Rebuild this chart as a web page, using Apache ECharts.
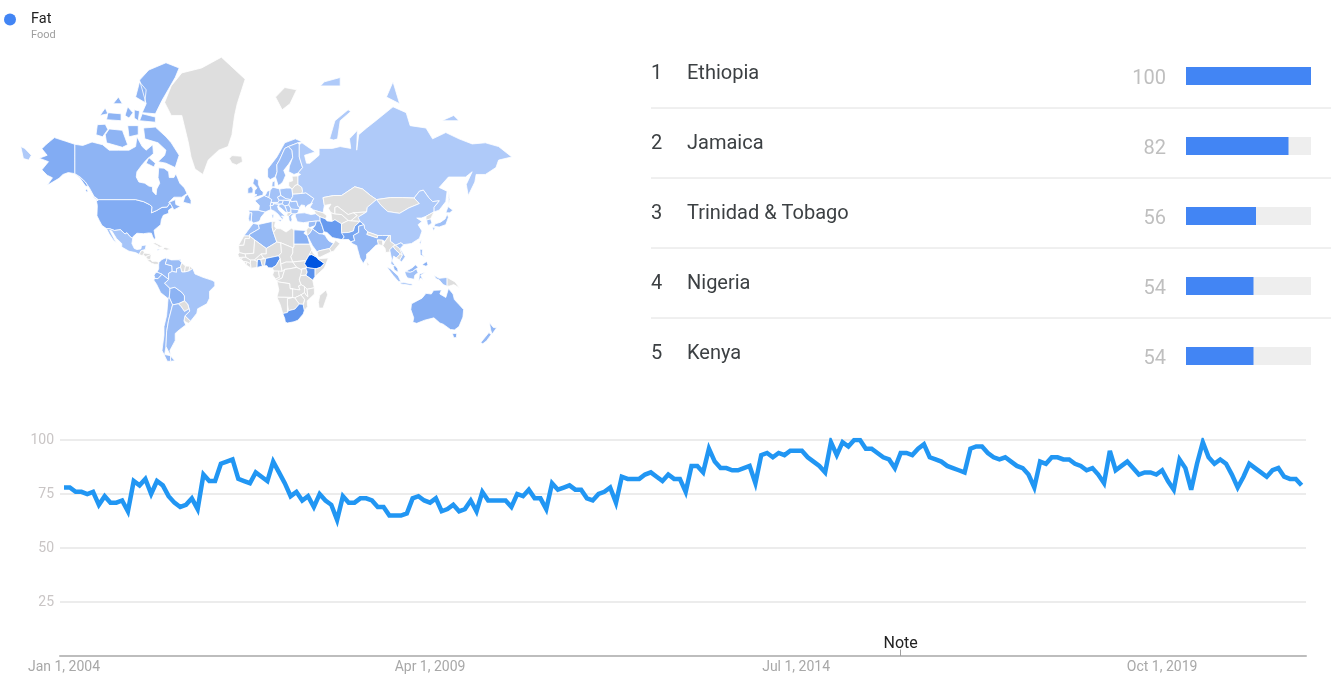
<!DOCTYPE html>
<html><head><meta charset="utf-8">
<style>html,body{margin:0;padding:0;background:#fff}#c{width:1331px;height:696px}</style>
<script src="https://cdn.jsdelivr.net/npm/echarts@6/dist/echarts.min.js"></script>
</head><body><div id="c"></div>
<script>
const rankNames = ['Ethiopia','Jamaica','Trinidad & Tobago','Nigeria','Kenya'];
const rankValues = [100,82,56,54,54];
const yTicksHidden = [0];
const tickMonths = [0,63,126,189]; /* months since Jan 2004 */
const tickLabels = ['Jan 1, 2004','Apr 1, 2009','Jul 1, 2014','Oct 1, 2019'];
const noteMonth = 144;
const interest = [
78,78,76,76,75,76,70,74,71,71,72,67,81,79,82,75,81,79,74,71,69,70,73,68,
84,81,81,89,90,91,82,81,80,85,83,81,90,85,80,74,76,72,74,69,75,72,70,63,
74,71,71,73,73,72,69,69,65,65,65,66,73,74,72,71,73,67,68,70,67,68,72,67,
76,72,72,72,72,69,75,74,77,73,73,68,80,77,78,79,77,77,73,72,75,76,78,71,
83,82,82,82,84,85,83,81,84,82,82,76,88,88,85,96,90,87,87,86,86,87,88,80,
93,94,92,94,93,95,95,95,92,90,88,85,99,93,99,97,100,100,96,96,94,92,91,87,
94,94,93,96,98,92,91,90,88,87,86,85,96,97,97,94,92,91,92,90,88,87,84,78,
90,89,92,92,91,91,89,88,86,87,84,80,95,86,88,90,87,84,85,85,84,86,81,77,
91,87,77,89,99,92,89,91,89,84,78,83,89,87,85,83,86,87,83,82,82,79];

const regionNames = ['Ethiopia','Jamaica','Trinidad','Nigeria','Kenya','South Africa','Iran','Ghana','Pakistan','Iraq','United States','Canada','Australia','India','Saudi Arabia','Algeria','Egypt','Morocco','Russia','China','Brazil','Argentina','Chile','Peru','Bolivia','Colombia','Ecuador','Venezuela','Mexico','Turkey','United Kingdom','Ireland','France','Germany','Spain','Portugal','Italy','Poland','Sweden','Norway','Finland','Denmark','Ukraine','Romania','Bulgaria','Greece','Hungary','Czechia','Austria','Switzerland','Benelux','Croatia','Serbia','South Korea','Japan','Thailand','Malaysia','Indonesia','Philippines','New Zealand','Vietnam','Taiwan','Syria'];
const regionValues = [100,82,56,54,54,50,47,45,38,35,33,27,31,25,22,24,30,18,10,11,15,20,22,24,28,22,24,20,15,12,25,25,18,16,18,15,14,15,20,22,18,18,14,15,14,15,18,16,16,16,18,15,14,15,18,15,25,18,30,25,15,15,20];

/* Simplified outlines as flat lon,lat lists */
const worldShapes = {
'United States':[[-124.7,48.4,-123,49,-95,49,-89,48,-84.5,46.5,-82.5,45.3,-83,42,-79,43.3,-75,45,-71,45.2,-69,47.4,-67,45,-70,43.5,-70,41.7,-74,40.6,-75.5,38,-76,35,-81,31.5,-80,26.5,-80.5,25,-82,27,-83,29.5,-85,29.7,-89,29.2,-94,29.5,-97.2,27,-97.2,25.9,-99.5,27.5,-101.5,29.8,-103,29,-106.5,31.8,-111,31.3,-114.8,32.5,-117.1,32.5,-120.5,34.5,-122.5,37.5,-124.3,40.3,-124,46],
 [-141,69.6,-148,70.4,-156.5,71.3,-163,69.5,-166,68.4,-162,66.5,-168,65.6,-161,64.5,-166,61.7,-162,59.7,-158,58.7,-162,55.6,-153,58.5,-150,60,-146,60.7,-141,60.3,-137,58.5,-133,55.3,-130.5,55,-133,57,-137,59,-141,60.3]],
'Canada':[[-141,69.6,-135,69.3,-128,70.2,-120,69.5,-115,68,-108,68,-100,68,-95,69,-94,71.5,-90,69,-87,68,-82,69.5,-81.5,67,-87,65,-90,63.5,-94,61,-94.5,59,-92.5,57,-88,56.5,-85,55.3,-82.3,55,-82,52.9,-79.5,51.3,-79,54,-76.7,56.5,-78,58.8,-77.5,62.4,-73.5,62.3,-70,61,-69.5,58.8,-66,58.8,-64.5,60.3,-61.5,56.5,-58,54.5,-56,52,-60,50.2,-66,50.2,-70,47.5,-65,49,-64.5,46.5,-61,45.5,-66,43.6,-67,45,-69,47.4,-71,45.2,-75,45,-79,43.3,-83,42,-82.5,45.3,-84.5,46.5,-89,48,-95,49,-123,49,-126,50,-130,54.5,-133,57,-137,59,-141,60.3],
 [-80,73.7,-72,71.5,-68,70,-62,66.5,-65,62.5,-72,64,-78,64.5,-73,66.5,-72,68,-78,70,-88,71,-89,73.5],
 [-90,76.5,-80,76.3,-75,78.5,-65,81.5,-62,82.5,-72,83,-85,82.3,-92,81.2,-87,78],
 [-117,70,-105,68.8,-101,69.5,-105,73,-115,73.3,-118,72],[-125,72,-120,71.5,-116,73.2,-118,74.3,-124,74.2],
 [-92,75,-80,74.7,-80,75.7,-90,76.3],[-95,79,-88,78.2,-87,80,-92,81],[-117,75.2,-106,75,-106,76.3,-116,76.5],
 [-100,71.5,-93,72,-93,74,-101,74],[-87,64,-81,62.7,-80,64,-85,65.8],[-59,47.7,-53,46.7,-53,48.7,-55.5,51.5,-57.5,50.7],[-128,50.7,-123.5,48.4,-125,50],[-103,76,-100,75.5,-97,76.5,-101,77.5],[-112,78,-105,78,-108,79],[-122,76,-116,76.3,-118,77.3],[-96,75.5,-93,75,-92,76.8,-96,77],[-132,54,-131,53,-132,52.5,-133,53.5]],
'Greenland':[[-73,78.2,-68,76,-60,76,-55,70,-53,66,-50,62,-44,60,-40,65,-32,68,-25,69,-22,72,-20,76,-18,78,-12,81.3,-30,83.5,-45,82.5,-60,82,-68,80.5]],
'Iceland':[[-24,65.5,-22,64,-18.5,63.4,-14,64.5,-14.7,66.2,-18,66.3,-22,66.4]],
'Svalbard':[[11,79,16,77,22,78,27,80,18,80.3]],
'Mexico':[[-117.1,32.5,-114.8,32.5,-111,31.3,-106.5,31.8,-103,29,-101.5,29.8,-99.5,27.5,-97.2,25.9,-97.8,22.5,-96,19,-94,18.2,-91,18.7,-90.5,21,-87,21.5,-87.7,18.3,-89,17.9,-91,17.2,-92.2,14.6,-95,16,-100,17,-105.5,20,-105.5,22.5,-109.5,26,-113,31,-114.7,31.5,-112,27,-109.5,23,-112,25,-115,29]],
'Guatemala':[[-92.2,14.6,-91,17.2,-89.2,17.8,-88.3,15.7,-90,13.8]],
'Honduras':[[-89.2,14.5,-88.3,15.7,-83.2,15,-84.5,14,-87.5,13]],
'Nicaragua':[[-87.5,13,-84.5,14,-83.2,15,-83.7,11,-85.7,11]],
'Panama':[[-85.7,11,-83.7,11,-82.5,9.5,-79.5,9.6,-77.3,8.7,-78,7.3,-80.5,7.3,-83,8.2,-85.7,10]],
'Cuba':[[-85,22,-80,23,-74.2,20.2,-77.5,19.9,-78,20.7,-82,22.5]],
'Hispaniola':[[-74.4,18.5,-72.8,19.9,-68.4,18.6,-71.5,17.8]],
'Jamaica':[[-78.4,18.5,-76.2,18.2,-76.3,17.7,-78.2,17.8]],
'Trinidad':[[-61.9,10.8,-60.8,10.9,-60.9,10,-61.9,10]],
'Colombia':[[-77.3,8.7,-75,11,-72,12.2,-71.3,11,-72.5,7.5,-67.5,6.2,-67.3,2,-70,0.5,-70,-4.2,-75,-0.2,-78.8,1.4,-77.5,4,-77.5,7]],
'Venezuela':[[-71.3,11,-72,12.2,-68,10.6,-62,10.7,-60,8.5,-61,5.2,-64,4,-64,1.3,-67.3,2,-67.5,6.2,-72.5,7.5]],
'Guyana':[[-60,8.5,-57.2,6,-58,1.5,-60,1.5,-61,5.2]],
'Suriname':[[-57.2,6,-54,5.9,-54.5,2.3,-58,1.5]],
'French Guiana':[[-54,5.9,-51.7,4.2,-54.5,2.3]],
'Ecuador':[[-80,0.8,-78.8,1.4,-75,-0.2,-78,-3.5,-80.3,-3.4,-81,-1]],
'Peru':[[-81.3,-4.5,-80.3,-3.4,-78,-3.5,-75,-0.2,-70,-4.2,-73,-7,-69,-10.8,-69,-12.5,-69.5,-17.5,-70.4,-18.3,-76,-14,-79,-8]],
'Bolivia':[[-69,-10.8,-65.3,-10,-60,-13.7,-58,-16.3,-58,-20,-62.6,-22,-67,-22.8,-69.5,-17.5,-69,-12.5]],
'Brazil':[[-51.7,4.2,-50,0,-44,-2.5,-37,-4.8,-35,-6,-35,-9,-39,-13,-39,-18,-41,-22,-48,-25.5,-48.6,-28.5,-53.4,-33.7,-57.6,-30.2,-54,-27,-54.5,-25.5,-55.5,-22.3,-58,-20,-58,-16.3,-60,-13.7,-65.3,-10,-69,-10.8,-73,-7,-70,-4.2,-70,0.5,-67.3,2,-64,1.3,-64,4,-61,5.2,-60,1.5,-58,1.5,-54.5,2.3]],
'Paraguay':[[-62.6,-22,-58,-20,-55.5,-22.3,-54.5,-25.5,-58,-27.3,-60.5,-24]],
'Uruguay':[[-58.4,-33.5,-57.6,-30.2,-53.4,-33.7,-55,-35]],
'Chile':[[-70.4,-18.3,-69.5,-17.5,-67,-22.8,-70,-33,-71.5,-40,-72,-48,-73,-52,-68.5,-52.5,-68.5,-55,-71,-55,-75,-50,-73.5,-42,-73.5,-37,-71.5,-30]],
'Argentina':[[-67,-22.8,-62.6,-22,-60.5,-24,-58,-27.3,-54.5,-25.5,-54,-27,-57.6,-30.2,-58.4,-33.5,-57,-36,-62,-39,-65,-41,-65,-45,-69,-50,-68.5,-52.5,-72,-48,-71.5,-40,-70,-33],[-68.5,-52.7,-65.2,-54.8,-68.5,-55]],
'Morocco':[[-13,27.7,-9.8,31.5,-5.9,35.8,-2,35.1,-1.2,32.5,-8.7,28.7,-8.7,27.7]],
'Western Sahara':[[-17,21.3,-13,27.7,-8.7,27.7,-8.7,26,-12,26,-13,21.3]],
'Algeria':[[-2,35.1,8.5,37,8.5,33,9.5,30,12,23.5,4,19,-4.8,25,-8.7,27.7,-8.7,28.7,-1.2,32.5]],
'Tunisia':[[8.5,37,11,37,10.2,34,11.5,32.5,9.5,30,8.5,33]],
'Libya':[[11.5,32.5,15,32.4,19,30.3,23,32.7,25,31.7,25,20,24,19.5,15,23,12,23.5,9.5,30]],
'Egypt':[[25,31.7,34,31.3,32.5,29.5,35,28,37,22,25,22]],
'Sudan':[[25,22,37,22,38.5,18,36.5,14.3,34,10,28,9.5,24,9,22.5,13,24,15.7,24,19.5,25,20]],
'South Sudan':[[24,9,28,9.5,34,10,33,7.7,35,5,30,3.6,27,5]],
'Mauritania':[[-17,21,-13,21.3,-12,26,-8.7,26,-8.7,27.7,-4.8,25,-5.5,15.5,-12,15,-16.5,16]],
'Mali':[[-12,15,-5.5,15.5,-4.8,25,4,19,4,15,0,15,-5,10.5,-8,10.5,-11.5,12.5]],
'Senegal':[[-16.5,16,-12,15,-11.5,12.5,-16.7,12.4,-17.5,14.7]],
'Guinea-Bissau':[[-16.7,12.4,-13.7,12.6,-15,11]],
'Guinea':[[-15,11,-13.7,12.6,-11.5,12.5,-8,10.5,-8,7.8,-10.5,9,-13.2,9.5]],
'Sierra Leone':[[-13.2,9.5,-10.5,9,-11.3,6.9]],
'Liberia':[[-11.3,6.9,-10.5,9,-8,7.8,-7.5,4.4]],
'Ivory Coast':[[-8,10.5,-5,10.5,-2.8,9.5,-3,5,-7.5,4.4,-8,7.8]],
'Ghana':[[-2.8,11,-0.2,11,0.5,8,1.2,6,-3,5,-2.8,9.5]],
'Burkina Faso':[[-5,10.5,0,15,2,12,0,11,-2.8,11,-2.8,9.5]],
'Benin':[[-0.2,11,0,11,3.6,11.7,2.7,6.3,1.2,6,0.5,8]],
'Niger':[[4,19,12,23.5,15,23,15.5,16,13.5,13.7,3.6,11.7,2,12,0,15,4,15]],
'Nigeria':[[2.7,6.3,3.6,11.7,13.5,13.7,14.5,11.7,11.5,6.5,8.5,4.6,5.5,4.8,4.4,6.3]],
'Chad':[[15,23,24,19.5,24,15.7,22.5,13,24,9,19,9,15,7.5,14.5,11.7,13.5,13.7,15.5,16]],
'Cameroon':[[8.5,4.6,11.5,6.5,14.5,11.7,15,7.5,16,2,9.8,2.2]],
'Central African Rep':[[15,7.5,19,9,24,9,27,5,22,4,18,3.5,16,2]],
'Gabon':[[9.8,2.2,13.3,2.2,14,-2.5,11,-3.8,8.8,-0.7]],
'Congo':[[13.3,2.2,16,2,18,3.5,16,-3,12,-5,11,-3.8,14,-2.5]],
'DR Congo':[[18,3.5,22,4,27,5,30,3.6,31,2,30,-1.2,29,-4.5,30.5,-8.2,28.5,-9,29.5,-12,27,-11.7,22,-11,21.7,-7.3,13,-6,12,-5,16,-3]],
'Uganda':[[31,3.7,34,4.2,35,1.5,34,-1,30,-1.2]],
'Kenya':[[35,5,41,4,41,-1.7,39.2,-4.7,34,-1,35,1.5,34,4.2]],
'Tanzania':[[34,-1,39.2,-4.7,40.4,-10.4,34.9,-11.5,33,-9.5,30.5,-8.2,29,-4.5,30,-1.2]],
'Ethiopia':[[36.5,14.3,38.5,14.6,42,12.7,43,11.5,42.8,10.9,48,8,45,5,42,4,41,4,35,5,33,7.7,34,10]],
'Eritrea':[[38.5,18,39.5,15.5,43,12.5,42,12.7,38.5,14.6,36.5,14.3]],
'Somalia':[[43,11.5,51,12,48,4.5,42,-1,41,-1.7,41,4,42,4,45,5,48,8]],
'Angola':[[12,-5,13,-6,21.7,-7.3,22,-11,24,-11,24,-17.5,12,-17.3,13.5,-12]],
'Zambia':[[22,-11,27,-11.7,29.5,-12,28.5,-9,30.5,-8.2,33,-9.5,33,-14,30.3,-15.6,25.5,-17.8,24,-17.5,24,-11]],
'Malawi':[[33,-9.5,34.9,-11.5,35.5,-17,34.3,-16,33,-14]],
'Mozambique':[[40.4,-10.4,40.5,-15,35,-20,35.3,-24,32.8,-26.8,31.9,-24,33,-19,30.3,-15.6,33,-14,34.3,-16,35.5,-17,34.9,-11.5]],
'Zimbabwe':[[25.5,-17.8,30.3,-15.6,33,-19,31.9,-22.4,29,-22.2]],
'Botswana':[[20,-18.3,24,-17.5,25.5,-17.8,29,-22.2,25.7,-25.7,20.8,-26.8,20,-22]],
'Namibia':[[12,-17.3,24,-17.5,20,-18.3,20,-28,16.5,-28.7,14.5,-22.5]],
'South Africa':[[16.5,-28.7,20,-28,20.8,-26.8,25.7,-25.7,29,-22.2,31.9,-22.4,32.8,-26.8,32,-29,28,-33,25,-34,20,-34.8,18.4,-34.2,18,-32]],
'Madagascar':[[49.3,-12,50.5,-15.5,47,-25,44,-25,43.5,-21,44.5,-16]],
'Spain':[[-9.3,43.5,-2,43.4,3.2,42.4,0,39.5,-0.7,37.7,-2,36.8,-5.6,36,-7.4,37.2,-7,42,-8.8,42]],
'Portugal':[[-8.8,42,-7,42,-7.4,37.2,-9,37,-9.5,38.8]],
'France':[[-1.8,43.4,3.2,42.5,7.5,43.8,7,46,7.6,47.6,8.2,49,6,50,2.5,51,-1.5,49.7,-4.7,48.4,-1.2,46]],
'United Kingdom':[[-5.7,50,1.5,51.2,1.7,52.7,0,53.5,-2,56,-2,57.7,-5,58.6,-6.2,56.5,-3,54.5,-4.7,53.3,-5,51.7,-3,51.4]],
'Ireland':[[-10,52,-6.2,52.2,-6,54,-7.5,55.3,-10,54.2]],
'Benelux':[[2.5,51,3.5,51.4,4.7,53,7,53.5,6,50]],
'Germany':[[7,53.5,9,54.8,14.2,54,15,51,12.5,50.2,13.8,48.7,13,47.6,7.6,47.6,8.2,49,6,50]],
'Switzerland':[[7,46,7.6,47.6,9.6,47.3,10,46.9,9,46]],
'Austria':[[9.6,47.3,13,47.6,13.8,48.7,17,48.7,16,46.8,10,46.9]],
'Italy':[[7.5,43.8,10.5,42.8,13,41.2,16,38.2,17,39,15.5,40.2,18.5,40,13.5,43.5,12.5,45.5,13.7,46.5,10,46.9,9,46,7,46],[12.5,38,15.5,38.2,15,36.8],[8.2,41,9.7,41,9.5,39,8.5,39]],
'Denmark':[[8.2,55,8.5,57,10.5,57.5,10.5,55]],
'Norway':[[5,59,7,58,10.7,59,12.2,61,12,63.5,14,65,18,68.5,20.7,69,28,70,31,70.3,26,71,18,70,12,66,5,62]],
'Sweden':[[11,59,13,55.5,14.5,56,16.5,57,18.7,59.7,17.2,61.5,21,63.7,24,65.8,23.5,68,20.7,69,18,68.5,14,65,12,63.5,12.2,61]],
'Finland':[[21,61,25,60,28,60.5,31.5,62.5,29,66,29,69.5,28,70,20.7,69,23.5,68,24,65.8,21.5,63]],
'Poland':[[14.2,54,19,54.4,22.8,54.4,23.5,53.9,24,50.5,22.5,49,19,49.4,15,51]],
'Czechia':[[12.5,50.2,15,51,19,49.4,22.5,49,22,48.4,17,48.7,13.8,48.7]],
'Hungary':[[16,46.8,17,48.7,22,48.4,21,46.2,18,45.8]],
'Romania':[[21,46.2,22,48.4,22.9,48,27,48.3,28.2,45.5,29.5,45,28.6,43.7,23,43.8,22.5,44.6]],
'Bulgaria':[[22.5,44.2,28.6,43.7,28,42,26,41.3,22.9,41.4]],
'Serbia':[[18,45.8,21,46.2,22.5,44.6,22.5,42.5,20,42,19,44]],
'Croatia':[[13.7,46.5,16,46.8,18,45.8,19,44,20,42,18.5,42.4,15,44.7,13.5,45.3]],
'Albania':[[20,42,22.5,42.3,22.9,41.4,20.9,40,19.4,40.4]],
'Greece':[[20.9,40,22.9,41.4,26,41.3,24,40.8,23,40,23.5,38,22.8,36.5,21.3,37.5]],
'Ukraine':[[24,50.5,24,51.7,31,52,34,52.3,40,49.6,38,47,35,46,33.5,44.5,33,46,30.5,46.3,29.5,45,28.2,45.5,27,48.3,22.9,48,22.5,49]],
'Belarus':[[23.5,53.9,26,55.7,28,56,31,54.7,31.5,53,31,52,24,51.7]],
'Baltics':[[21,55.3,21,57,24,57.5,23.5,59.3,28,59.4,28,56,26,55.7,23.5,53.9,22.8,54.4]],
'Russia':[[31,70,41,67.5,33,66.5,34.5,64,37,64,44,66.5,44,68.5,54,68.5,60,69,68,68.5,67,71,73,73,72.5,68,74,72,80,73.5,87,75,100,77.5,110,76.5,113,74,125,73.5,130,71,140,72.5,150,71,160,69.7,170,70,180,69,190,66,180,65,178,62.5,170,60,163,60,162,57,157,51,155.5,56,160,61,155,59,142,59,135,54.7,141,53,140,48,135,43.5,131,42.5,131,45,135,48.4,130,48,127,50,123,53.5,120,53,116,49.8,107,50,98,50,87.5,49,83,51,77,54,71,55,61,51,55,51,47,50,48,46,47,42,40,43.5,37,45,39,47.2,38,47,40,49.6,34,52.3,31,52,31.5,53,31,54.7,28,56,28,59.4,30,60,28,60.5,31.5,62.5,29,66,29,69.5],
 [142,54,143,49,142,46,142,50],[52,71,55,70.7,58,71,60,75,68,76.7,66,77,56,75],[95,79,105,78,100,81],[137,75,150,75,146,76],[45,80.5,60,80.5,60,81.5,48,81],[-182,69,-179,68.5,-174,66.5,-176,65,-180,65.5]],
'Kazakhstan':[[47,50,55,51,61,51,71,55,77,54,83,51,87.5,49,80.5,45,80,42.5,70,42,66,41,58,45.5,56,45,56,41.3,53,42,51,44.5,53,46.7,48,46]],
'Uzbekistan':[[56,45,58,45.5,66,41,70,42,73,40.5,68,37.3,66,37.5,61,41,56,41.3]],
'Turkmenistan':[[53,42,56,41.3,61,41,66,37.5,61,35.5,56,38,53.8,37]],
'Kyrgyzstan':[[70,42,80,42.5,74,39.5,75,37,68,37.3,73,40.5]],
'Mongolia':[[87.5,49,98,50,107,50,116,49.8,120,47,112,44.7,105,41.7,96,42.7,91,46]],
'China':[[73.5,39.5,80,42.5,80.5,45,87.5,49,91,46,96,42.7,105,41.7,112,44.7,120,47,116,49.8,120,53,123,53.5,127,50,130,48,135,48.4,131,45,131,42.5,125,40,121.5,39,118,39,122,37,119,35,122,31,120,26,114,22.5,108,21.7,106,23,102,21.3,98,24,98,28,92,28,88.5,28,81,30.3,78.5,32.5,78,35,75,37]],
'North Korea':[[125,40,131,42.5,128.5,38.5,125,37.8]],
'South Korea':[[125.5,37.8,128.5,38.5,129.5,36,127,34.5,126,35.5]],
'Japan':[[131,34,135,33.5,140,35,142,39.5,141,41.3,139.5,38.5,136,36.5,132,35.5],[130,33.5,132,33,130.5,31],[140,42,141.7,45.4,145.3,43.5,143,42]],
'Taiwan':[[120,23,121.5,25.2,121,22]],
'Turkey':[[26,40,26,41.3,28,41.8,33,42,38,41,41.5,41.5,44.7,39.7,44.8,37.2,42,37.2,36,36.7,32,36.2,27.5,36.8]],
'Caucasus':[[40,43.5,47,42,50,40.3,48.8,38.5,44.7,39.7,41.5,41.5]],
'Syria':[[36,36.7,42,37.2,41,34.4,36.5,33,35.8,34.5]],
'Jordan':[[34.3,31.3,35.5,33.2,36.5,33,39,32.3,37,29.5,35,28]],
'Iraq':[[42,37.2,44.8,37.2,46,35,47.7,30.5,46.5,29,44,29.2,39,32.3,41,34.4]],
'Saudi Arabia':[[35,28,37,29.5,39,32.3,44,29.2,46.5,29,48.5,28.3,50,26,51.5,24.2,55,22.5,52,19,44,17.3,42.5,16.5,39,21]],
'Yemen':[[42.5,16.5,44,17.3,52,19,53,16.5,45,12.8,43.3,12.7]],
'Oman':[[52,19,55,22.5,56.4,24.8,59.8,22.5,55,17,53,16.5]],
'Iran':[[44.8,37.2,44.7,39.7,48.8,38.5,50,37.3,53.8,37,56,38,61,35.5,61,31.5,63,27,61.5,25.2,57,26,54,26.6,50,30,47.7,30.5,46,35]],
'Afghanistan':[[61,35.5,66,37.5,68,37.3,75,37,71,34,70,31,66.5,30,61,29.8,61,31.5]],
'Pakistan':[[61,29.8,66.5,30,70,31,71,34,75,37,78,35,74,34,74,30,70,28,71,24.5,68,23.7,66.5,25.3,61.5,25.2,63,27]],
'India':[[74,34,78,35,78.5,32.5,81,30.3,80.2,28.7,88,26.4,88.5,28,92,28,97,28,94,24,92,24.8,88.2,25,89,21.8,87,21.2,82,16.5,80,15,80,12,77.5,8,75,12,73,19,72.5,21,69,22.5,68,23.7,71,24.5,70,28,74,30]],
'Nepal':[[80.2,28.7,88,26.4,88.5,28,81,30.3]],
'Bangladesh':[[88.2,25,92,24.8,92.3,21,89,21.8]],
'Sri Lanka':[[80,9.7,82,7,80.5,6]],
'Myanmar':[[92.3,21,94,24,97,28,98,28,98,24,102,21.3,100,20.5,97.5,18,99,11,97.5,16.5,94.5,16,94,19]],
'Thailand':[[97.5,18,100,20.5,102,18,105.5,15,102.5,12,100.5,13.5,99.5,9.5,102,6,100,6.5,98.3,8,99,11]],
'Laos':[[100,20.5,102,21.3,105,19,107,15,105.5,15,102,18]],
'Vietnam':[[102,21.3,106,23,108,21.5,105.5,19,109.3,13,106.5,9,105,10.5,107,14,107,15,105,19]],
'Cambodia':[[102.5,12,105.5,15,107,14,105,10.5]],
'Malaysia':[[100,6.5,102,6,103.5,4,104,1.4,101,3],[109.5,1.8,111.5,3,115,5,117,7,119,5,117.7,4,115,2,113,1.3]],
'Indonesia':[[109,1,109.5,1.8,113,1.3,115,2,117.7,4,119,1,116.5,-1,116,-4,111,-3,110,-1.5],[95.3,5.5,98,4,104,-1.5,106,-6,104,-5.5,100,-1,97,3],[105.5,-6.5,108,-6.5,114.5,-7.5,114.5,-8.7,106,-7.5],[119.5,-5.5,120,0,125,1.5,121,-1,123,-5,121,-3],[131,-1,135,-3.3,141,-2.6,141,-9.2,138,-8,135,-4.5,132.5,-3.5]],
'Papua New Guinea':[[141,-2.6,147,-6,150.5,-10.5,146,-8,143,-9,141,-9.2]],
'Philippines':[[120.5,18.5,122.2,18.3,122,15,124,13,120.7,14.5],[122,7,125.5,9.5,126.5,7,125,5.8]],
'Australia':[[114,-22,122,-18,125,-14.5,129,-15,130.8,-12.3,136.7,-12,135.5,-15,140,-17.5,142,-11,145.5,-15,146.5,-19,150,-22.5,153.5,-26,153,-31,150,-37,146.5,-39,143.5,-38.7,138,-35.5,135.5,-34.8,131,-31.5,124,-33,118,-35,115,-34.3,115.7,-31.5,113.5,-26],[145,-41,148.3,-41,148,-43.3,146,-43.5]],
'New Zealand':[[173,-34.5,176,-37.5,178.5,-37.7,175,-41.5,174,-39],[172.7,-40.5,174.3,-41.7,171,-45,168,-46.7,166.5,-46]]
};

function ring(flat){const r=[];for(let i=0;i<flat.length;i+=2)r.push([flat[i],flat[i+1]]);r.push([flat[0],flat[1]]);return r;}
const features=Object.keys(worldShapes).map(n=>({type:'Feature',properties:{name:n},geometry:{type:'MultiPolygon',coordinates:worldShapes[n].map(p=>[ring(p)])}}));
echarts.registerMap('world',{type:'FeatureCollection',features});

const PX=1.32,X0=261,KY=75.6,Y0=274;
const projection={
 project:c=>[X0+PX*c[0],Y0-KY*Math.log(Math.tan(Math.PI/4+c[1]*Math.PI/360))],
 unproject:p=>[(p[0]-X0)/PX,(2*Math.atan(Math.exp((Y0-p[1])/KY))-Math.PI/2)*180/Math.PI]
};
let bx0=1e9,bx1=-1e9,by0=1e9,by1=-1e9;
features.forEach(f=>f.geometry.coordinates.forEach(p=>p[0].forEach(c=>{const q=projection.project(c);bx0=Math.min(bx0,q[0]);bx1=Math.max(bx1,q[0]);by0=Math.min(by0,q[1]);by1=Math.max(by1,q[1]);})));

const lineData=interest.map((v,i)=>[i,v]);
const font='Roboto';
const chart=echarts.init(document.getElementById('c'),null,{renderer:'canvas'});
const seps=[108,178,248,318].map(y=>({type:'line',silent:true,shape:{x1:651,y1:y,x2:1331,y2:y},style:{stroke:'#e0e0e0',lineWidth:1}}));
chart.setOption({
 animation:false,
 textStyle:{fontFamily:font},
 title:{text:'Food',left:31,top:30,padding:0,textStyle:{fontSize:11,fontWeight:'normal',color:'#9e9e9e',fontFamily:font}},
 legend:{left:4,top:12,padding:0,itemWidth:12,itemHeight:12,selectedMode:false,data:[{name:'Fat',icon:'circle',itemStyle:{color:'#4285f4'}}],textStyle:{fontSize:14.5,color:'#212121',fontFamily:font,padding:[0,0,0,10]}},
 visualMap:{show:false,seriesIndex:0,min:0,max:100,inRange:{color:['#c2d7fc','#0055e0']}},
 graphic:seps,
 grid:[
  {left:60,width:1246,top:440,height:216},
  {left:1186,width:125,top:41,height:350}
 ],
 xAxis:[
  {type:'value',gridIndex:0,min:-0.69,max:213.76,
   splitLine:{show:false},axisTick:{show:false},
   axisLine:{lineStyle:{color:'#bdbdbd',width:2}},
   axisLabel:{customValues:tickMonths,formatter:v=>tickLabels[tickMonths.indexOf(v)]||'',color:'#a8a8a8',fontSize:14,fontFamily:font,margin:4,hideOverlap:false}},
  {type:'value',gridIndex:1,min:0,max:100,show:false}
 ],
 yAxis:[
  {type:'value',gridIndex:0,min:0,max:100,interval:25,axisLine:{show:false},axisTick:{show:false},
   splitLine:{lineStyle:{color:'#ececec',width:2}},
   axisLabel:{color:'#c9c5c5',fontSize:14,fontFamily:font,margin:6,formatter:v=>yTicksHidden.includes(v)?'':String(v)}},
  {type:'category',gridIndex:1,inverse:true,data:rankNames,axisLine:{show:false},axisTick:{show:false},splitLine:{show:false},
   axisLabel:{margin:535,align:'left',padding:[0,0,4,0],
    formatter:(v,i)=>'{r|'+(i+1)+'}{n|'+v+'}',
    rich:{r:{width:36,fontSize:20,color:'#3c4043',fontFamily:font},n:{fontSize:20,color:'#3c4043',fontFamily:font}}}}
 ],
 series:[
  {type:'map',map:'world',projection,left:bx0,top:by0,width:bx1-bx0,height:by1-by0,silent:true,selectedMode:false,showLegendSymbol:false,
   itemStyle:{areaColor:'#dedede',borderColor:'#fff',borderWidth:0.8},
   label:{show:false},emphasis:{disabled:true},
   data:regionNames.map((n,i)=>({name:n,value:regionValues[i]}))},
  {type:'bar',name:'Fat',xAxisIndex:1,yAxisIndex:1,barWidth:18,data:rankValues,showBackground:true,
   backgroundStyle:{color:'#eeeeee'},itemStyle:{color:'#4285f4'},silent:true,
   label:{show:true,position:'left',distance:20,offset:[0,3],color:'#bfbfbf',fontSize:20,fontFamily:font}},
  {type:'line',name:'Interest',xAxisIndex:0,yAxisIndex:0,data:lineData,showSymbol:false,symbol:'none',smooth:false,silent:true,
   lineStyle:{color:'#2196f3',width:4.5,join:'miter',miterLimit:4},
   markLine:{silent:true,symbol:'none',animation:false,lineStyle:{color:'#9e9e9e',width:1,type:'solid'},
    label:{show:true,position:'end',formatter:'Note',color:'#222',fontSize:16,fontFamily:font,distance:-2},
    data:[[{coord:[noteMonth,0]},{coord:[noteMonth,3]}]]}}
 ]
});
</script></body></html>
